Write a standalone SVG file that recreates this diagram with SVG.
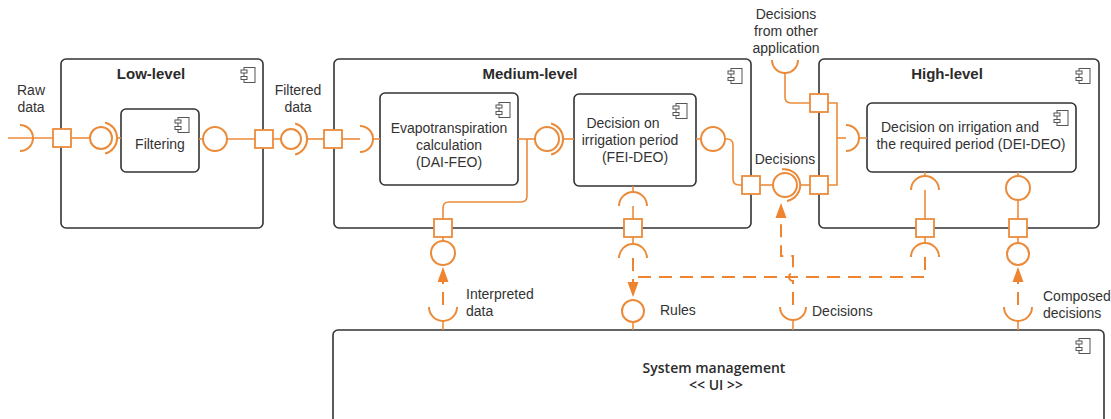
<svg xmlns="http://www.w3.org/2000/svg" xmlns:xlink="http://www.w3.org/1999/xlink" width="1111" height="419" viewBox="0 0 1111 419">
  <style>
    .box { fill: #ffffff; stroke: #333333; stroke-width: 1.6; }
    .title { font-family: "Liberation Sans", Arial, sans-serif; font-size: 15px; font-weight: bold; fill: #2b2b2b; text-anchor: middle; }
    .txt { font-family: "Liberation Sans", Arial, sans-serif; font-size: 14px; fill: #333333; }
    .mid { text-anchor: middle; }
    .sys { font-family: "Open Sans", "Liberation Sans", sans-serif; font-size: 14px; font-weight: 600; fill: #2b2b2b; text-anchor: middle; }
    .wire { fill: none; stroke: #EB8B3A; stroke-width: 1.6; }
    .arc { fill: none; stroke: #EB8B3A; stroke-width: 2; }
    .ball { fill: #ffffff; stroke: #EB8B3A; stroke-width: 2; }
    .port { fill: #ffffff; stroke: #EB8B3A; stroke-width: 1.8; }
    .dash { fill: none; stroke: #EE8430; stroke-width: 2; stroke-dasharray: 13 8; }
    .head { fill: #EE8430; stroke: none; }
  </style>
  <defs>
    <symbol id="cmp" viewBox="0 0 16 16">
      <rect x="4" y="0.5" width="11" height="15" fill="#ffffff" stroke="#555555" stroke-width="1"/>
      <rect x="1" y="3" width="6" height="3" fill="#ffffff" stroke="#555555" stroke-width="1"/>
      <rect x="1" y="9.5" width="6" height="3" fill="#ffffff" stroke="#555555" stroke-width="1"/>
    </symbol>
  </defs>

  <!-- Components -->
  <g id="low-level">
    <rect class="box" x="61" y="59" width="202" height="169" rx="5"/>
    <text class="title" x="151" y="79">Low-level</text>
    <use xlink:href="#cmp" x="240" y="67" width="16" height="16"/>
  </g>
  <g id="filtering">
    <rect class="box" x="121" y="109" width="78" height="63" rx="5"/>
    <text class="txt mid" x="160" y="149">Filtering</text>
    <use xlink:href="#cmp" x="174" y="117" width="16" height="16"/>
  </g>
  <g id="medium-level">
    <rect class="box" x="334" y="59" width="417" height="169" rx="5"/>
    <text class="title" x="530" y="79">Medium-level</text>
    <use xlink:href="#cmp" x="727" y="68" width="16" height="16"/>
  </g>
  <g id="evapotranspiration">
    <rect class="box" x="380" y="93" width="138" height="92" rx="5"/>
    <text class="txt mid" x="449" y="133">Evapotranspiration</text>
    <text class="txt mid" x="449" y="150">calculation</text>
    <text class="txt mid" x="449" y="167">(DAI-FEO)</text>
    <use xlink:href="#cmp" x="495" y="102" width="16" height="16"/>
  </g>
  <g id="irrigation-period">
    <rect class="box" x="574" y="94" width="122" height="92" rx="5"/>
    <text class="txt mid" x="623" y="128">Decision on</text>
    <text class="txt mid" x="630" y="145">irrigation period</text>
    <text class="txt mid" x="635" y="162">(FEI-DEO)</text>
    <use xlink:href="#cmp" x="672" y="103" width="16" height="16"/>
  </g>
  <g id="high-level">
    <rect class="box" x="819" y="59" width="280" height="169" rx="5"/>
    <text class="title" x="947" y="79">High-level</text>
    <use xlink:href="#cmp" x="1075" y="68" width="16" height="16"/>
  </g>
  <g id="irrigation-and-period">
    <rect class="box" x="867" y="103" width="209" height="69" rx="5"/>
    <text class="txt mid" x="960" y="132">Decision on irrigation and</text>
    <text class="txt mid" x="971" y="149">the required period (DEI-DEO)</text>
    <use xlink:href="#cmp" x="1053" y="110" width="16" height="16"/>
  </g>
  <g id="system-management">
    <rect class="box" x="333" y="330" width="771" height="110" rx="5"/>
    <text class="sys" x="714" y="373">System management</text>
    <text class="sys" x="716" y="390">&lt;&lt; UI &gt;&gt;</text>
    <use xlink:href="#cmp" x="1075" y="338" width="16" height="16"/>
  </g>

  <!-- Interfaces, ports and dependencies -->
  <g id="connectors">
    <!-- raw data into Low-level -->
    <line class="wire" x1="8" y1="138" x2="53" y2="138"/>
    <path class="arc" d="M20,125 A13,13 0 0 1 20,151"/>
    <line class="wire" x1="71" y1="138" x2="90" y2="138"/>
    <circle class="ball" cx="101" cy="138" r="11"/>
    <path class="arc" d="M105.1,122.5 A16,16 0 0 1 105.1,153.5"/>
    <line class="wire" x1="117" y1="138" x2="121" y2="138"/>
    <rect class="port" x="53" y="129" width="18" height="18"/>

    <!-- filtered data to Medium-level -->
    <line class="wire" x1="199" y1="139" x2="203" y2="139"/>
    <circle class="ball" cx="215" cy="139" r="12"/>
    <line class="wire" x1="227" y1="139" x2="281" y2="139"/>
    <circle class="ball" cx="291" cy="139" r="10"/>
    <path class="arc" d="M295.1,123.5 A16,16 0 0 1 295.1,154.5"/>
    <line class="wire" x1="307" y1="139" x2="324" y2="139"/>
    <rect class="port" x="255" y="130" width="18" height="18"/>
    <rect class="port" x="324" y="130" width="18" height="18"/>

    <!-- inside Medium-level -->
    <line class="wire" x1="342" y1="139" x2="360" y2="139"/>
    <path class="arc" d="M360,126 A13,13 0 0 1 360,152"/>
    <line class="wire" x1="373" y1="139" x2="380" y2="139"/>
    <line class="wire" x1="518" y1="139" x2="535" y2="139"/>
    <circle class="ball" cx="547" cy="139" r="12"/>
    <path class="arc" d="M551.1,123.5 A16,16 0 0 1 551.1,154.5"/>
    <line class="wire" x1="563" y1="139" x2="574" y2="139"/>
    <path class="wire" d="M527,139 V196 Q527,202 521,202 H449 Q443,202 443,208 V219"/>
    <rect class="port" x="434" y="219" width="18" height="18"/>

    <!-- interpreted data -->
    <line class="wire" x1="443" y1="237" x2="443" y2="241"/>
    <circle class="ball" cx="443" cy="253" r="12"/>
    <line class="dash" x1="443" y1="305" x2="443" y2="282"/>
    <polygon class="head" points="443,267 437.5,282 448.5,282"/>
    <path class="arc" d="M429,307 A14,14 0 0 0 457,307"/>
    <line class="wire" x1="443" y1="321" x2="443" y2="330"/>

    <!-- rules -->
    <line class="wire" x1="633" y1="186" x2="633" y2="192"/>
    <path class="arc" d="M619,206 A14,14 0 0 1 647,206"/>
    <line class="wire" x1="633" y1="206" x2="633" y2="219"/>
    <rect class="port" x="624" y="219" width="18" height="18"/>
    <line class="wire" x1="633" y1="237" x2="633" y2="244"/>
    <path class="arc" d="M619,258 A14,14 0 0 1 647,258"/>
    <line class="dash" x1="633" y1="258" x2="633" y2="283"/>
    <polygon class="head" points="633,297 627.5,282 638.5,282"/>
    <circle class="ball" cx="633" cy="311" r="11"/>
    <line class="wire" x1="633" y1="322" x2="633" y2="330"/>

    <!-- decisions between Medium-level and High-level -->
    <line class="wire" x1="696" y1="139" x2="701" y2="139"/>
    <circle class="ball" cx="713" cy="139" r="12"/>
    <path class="wire" d="M725,139 H727 Q733,139 733,145 V179 Q733,185 739,185 H742"/>
    <rect class="port" x="742" y="176" width="18" height="18"/>
    <line class="wire" x1="760" y1="185" x2="773" y2="185"/>
    <circle class="ball" cx="785" cy="185" r="12"/>
    <path class="arc" d="M782,169.3 A16,16 0 0 1 787,200.9"/>
    <line class="wire" x1="801" y1="185" x2="810" y2="185"/>
    <rect class="port" x="810" y="176" width="18" height="18"/>

    <!-- decisions from other application -->
    <path class="arc" d="M772,60 A13,13 0 0 0 798,60"/>
    <path class="wire" d="M785,73 V97 Q785,103 791,103 H810"/>
    <rect class="port" x="810" y="94" width="18" height="18"/>

    <!-- inside High-level -->
    <path class="wire" d="M828,103 H837 V185 H828"/>
    <line class="wire" x1="837" y1="138" x2="846" y2="138"/>
    <path class="arc" d="M846,125 A13,13 0 0 1 846,151"/>
    <line class="wire" x1="859" y1="138" x2="867" y2="138"/>

    <!-- rules required by DEI-DEO -->
    <line class="wire" x1="925" y1="172" x2="925" y2="176"/>
    <path class="arc" d="M911,190 A14,14 0 0 1 939,190"/>
    <line class="wire" x1="925" y1="190" x2="925" y2="219"/>
    <rect class="port" x="916" y="219" width="18" height="18"/>
    <line class="wire" x1="925" y1="237" x2="925" y2="243"/>
    <path class="arc" d="M911,257 A14,14 0 0 1 939,257"/>
    <path class="dash" d="M925,257 V277 H633"/>

    <!-- decisions required by System management -->
    <path class="arc" d="M780,307 A13,13 0 0 0 806,307"/>
    <line class="wire" x1="793" y1="320" x2="793" y2="330"/>
    <path class="dash" d="M793,305 V281 A4,4 0 0 1 793,273 V256 H781 V218"/>
    <polygon class="head" points="781,203 775.5,218 786.5,218"/>

    <!-- composed decisions -->
    <line class="wire" x1="1018" y1="172" x2="1018" y2="176"/>
    <circle class="ball" cx="1018" cy="188" r="12"/>
    <line class="wire" x1="1018" y1="200" x2="1018" y2="219"/>
    <rect class="port" x="1009" y="219" width="18" height="18"/>
    <line class="wire" x1="1018" y1="237" x2="1018" y2="243"/>
    <circle class="ball" cx="1018" cy="254" r="11"/>
    <line class="dash" x1="1018" y1="305" x2="1018" y2="281"/>
    <polygon class="head" points="1018,267 1012.5,282 1023.5,282"/>
    <path class="arc" d="M1004,307 A14,14 0 0 0 1032,307"/>
    <line class="wire" x1="1018" y1="321" x2="1018" y2="330"/>
  </g>

  <!-- Interface labels -->
  <g id="labels">
    <text class="txt mid" x="31" y="95">Raw</text>
    <text class="txt mid" x="31" y="112">data</text>
    <text class="txt mid" x="298" y="95">Filtered</text>
    <text class="txt mid" x="298" y="112">data</text>
    <text class="txt mid" x="786" y="19">Decisions</text>
    <text class="txt mid" x="786" y="36">from other</text>
    <text class="txt mid" x="786" y="53">application</text>
    <text class="txt mid" x="785" y="164">Decisions</text>
    <text class="txt" x="466" y="299">Interpreted</text>
    <text class="txt" x="466" y="316">data</text>
    <text class="txt" x="660" y="315">Rules</text>
    <text class="txt" x="812" y="316">Decisions</text>
    <text class="txt" x="1043" y="301">Composed</text>
    <text class="txt" x="1043" y="318">decisions</text>
  </g>
</svg>
